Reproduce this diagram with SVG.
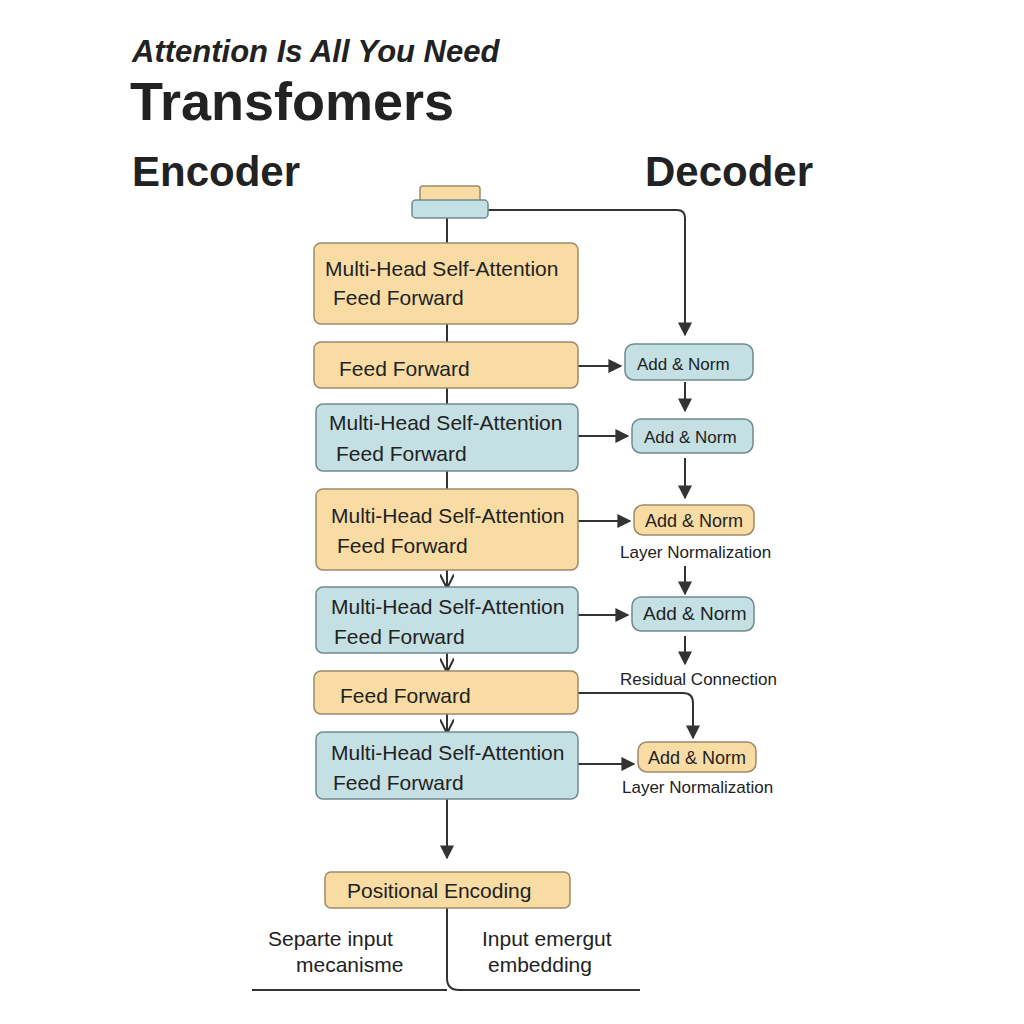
<svg xmlns="http://www.w3.org/2000/svg" width="1024" height="1024" viewBox="0 0 1024 1024">
<defs>
<style>
text{font-family:"Liberation Sans",Arial,sans-serif;fill:#222}
.o{fill:#f8dca4;stroke:#9a8a6a;stroke-width:1.5}
.b{fill:#c4e0e3;stroke:#6f8a8e;stroke-width:1.5}
.t{font-size:21px}
.s{font-size:17px}
.l{stroke:#333;stroke-width:2;fill:none}
</style>
<marker id="a" viewBox="0 0 10 10" refX="9" refY="5" markerWidth="7" markerHeight="7" orient="auto"><path d="M0,0 L10,5 L0,10 z" fill="#333"/></marker>
<marker id="v" viewBox="0 0 10 10" refX="9" refY="5" markerWidth="7" markerHeight="7" orient="auto"><path d="M0,0 L10,5 L0,10" fill="none" stroke="#333" stroke-width="1.5"/></marker>
</defs>
<rect width="1024" height="1024" fill="#fff"/>
<text x="132" y="62" font-size="31" font-weight="bold" font-style="italic">Attention Is All You Need</text>
<text x="130" y="120" font-size="54" font-weight="bold">Transfomers</text>
<text x="132" y="186" font-size="42" font-weight="bold">Encoder</text>
<text x="645" y="186" font-size="42" font-weight="bold">Decoder</text>
<g id="connectors">
<path class="l" d="M447 218 V243 M447 324 V342 M447 388 V404 M447 471 V489"/>
<path class="l" marker-end="url(#v)" d="M447 570 V587"/>
<path class="l" marker-end="url(#v)" d="M447 653 V671"/>
<path class="l" marker-end="url(#v)" d="M447 714 V732"/>
<path class="l" marker-end="url(#a)" d="M447 799 V858"/>
<path class="l" marker-end="url(#a)" d="M488 210 H677 Q685 210 685 218 V335"/>
<path class="l" marker-end="url(#a)" d="M578 366 H621"/>
<path class="l" marker-end="url(#a)" d="M578 436 H628"/>
<path class="l" marker-end="url(#a)" d="M578 521 H630"/>
<path class="l" marker-end="url(#a)" d="M578 615 H628"/>
<path class="l" marker-end="url(#a)" d="M578 764 H634"/>
<path class="l" marker-end="url(#a)" d="M685 382 V411"/>
<path class="l" marker-end="url(#a)" d="M685 458 V498"/>
<path class="l" marker-end="url(#a)" d="M685 566 V594"/>
<path class="l" marker-end="url(#a)" d="M685 636 V664"/>
<path class="l" marker-end="url(#a)" d="M578 693 H683 Q693 693 693 703 V738"/>
<path class="l" d="M447 908 V978 Q447 990 459 990 H640 M252 990 H447"/>
</g>
<g id="top"><rect class="o" x="420" y="186" width="60" height="16" rx="3"/><rect class="b" x="412" y="200" width="76" height="18" rx="4"/></g>
<g id="e1"><rect class="o" x="314" y="243" width="264" height="81" rx="7"/><text class="t" x="325" y="276">Multi-Head Self-Attention</text><text class="t" x="333" y="305">Feed Forward</text></g>
<g id="e2"><rect class="o" x="314" y="342" width="264" height="46" rx="7"/><text class="t" x="339" y="376">Feed Forward</text></g>
<g id="e3"><rect class="b" x="316" y="404" width="262" height="67" rx="7"/><text class="t" x="329" y="430">Multi-Head Self-Attention</text><text class="t" x="336" y="461">Feed Forward</text></g>
<g id="e4"><rect class="o" x="316" y="489" width="262" height="81" rx="7"/><text class="t" x="331" y="523">Multi-Head Self-Attention</text><text class="t" x="337" y="553">Feed Forward</text></g>
<g id="e5"><rect class="b" x="316" y="587" width="262" height="66" rx="7"/><text class="t" x="331" y="614">Multi-Head Self-Attention</text><text class="t" x="334" y="644">Feed Forward</text></g>
<g id="e6"><rect class="o" x="314" y="671" width="264" height="43" rx="7"/><text class="t" x="340" y="703">Feed Forward</text></g>
<g id="e7"><rect class="b" x="316" y="732" width="262" height="67" rx="7"/><text class="t" x="331" y="760">Multi-Head Self-Attention</text><text class="t" x="333" y="790">Feed Forward</text></g>
<g id="d1"><rect class="b" x="625" y="344" width="128" height="36" rx="9"/><text class="s" x="637" y="370" font-size="19">Add &amp; Norm</text></g>
<g id="d2"><rect class="b" x="632" y="419" width="121" height="34" rx="9"/><text class="s" x="644" y="443" font-size="19">Add &amp; Norm</text></g>
<g id="d3"><rect class="o" x="634" y="505" width="120" height="30" rx="9"/><text x="645" y="527" font-size="18">Add &amp; Norm</text><text class="s" x="620" y="558">Layer Normalization</text></g>
<g id="d4"><rect class="b" x="632" y="597" width="122" height="34" rx="9"/><text x="643" y="620" font-size="19">Add &amp; Norm</text></g>
<g id="d5"><text class="s" x="620" y="685">Residual Connection</text></g>
<g id="d6"><rect class="o" x="638" y="742" width="118" height="30" rx="9"/><text x="648" y="764" font-size="18">Add &amp; Norm</text><text class="s" x="622" y="793">Layer Normalization</text></g>
<g id="pe"><rect class="o" x="325" y="872" width="245" height="36" rx="6"/><text x="347" y="898" font-size="21">Positional Encoding</text></g>
<text x="268" y="946" font-size="21">Separte input</text>
<text x="296" y="972" font-size="21">mecanisme</text>
<text x="482" y="946" font-size="21">Input emergut</text>
<text x="488" y="972" font-size="21">embedding</text>
</svg>
